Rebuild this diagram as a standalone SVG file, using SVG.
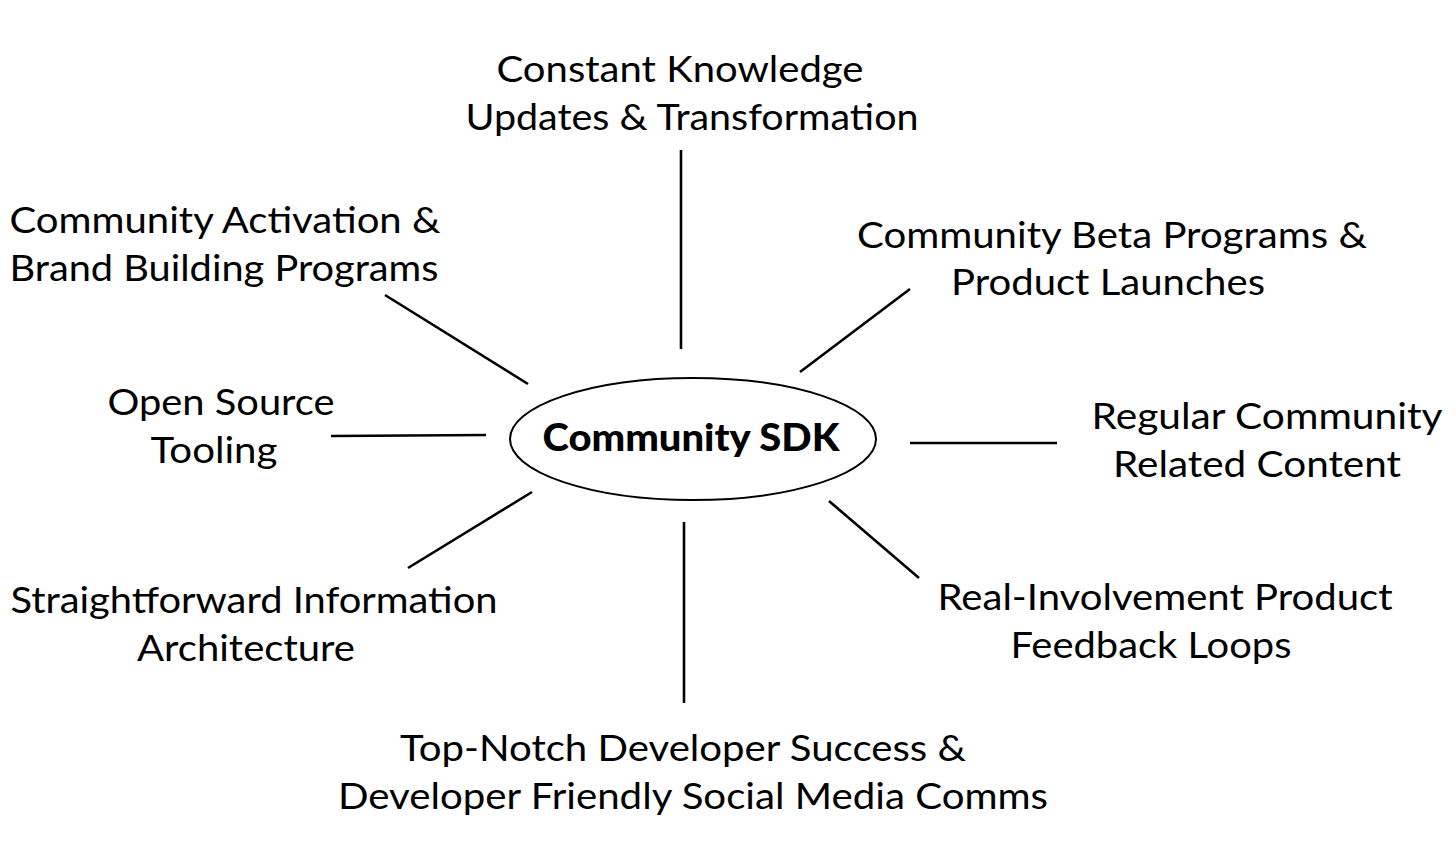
<svg xmlns="http://www.w3.org/2000/svg" width="1456" height="866" viewBox="0 0 1456 866">
<style>
.t{font-family:Lato,"Noto Sans","Liberation Sans",sans-serif;font-size:37px;fill:#000;text-anchor:middle}
.l{stroke:#000;stroke-width:2.6;fill:none}
.c{font-family:Lato,"Noto Sans","Liberation Sans",sans-serif;font-size:38px;font-weight:900;fill:#000;text-anchor:middle}
</style>
<rect width="1456" height="866" fill="#fff"/>
<g id="connectors">
<line class="l" x1="681" y1="150" x2="681" y2="349"/>
<line class="l" x1="385" y1="295" x2="528" y2="384"/>
<line class="l" x1="910" y1="289" x2="800" y2="372"/>
<line class="l" x1="331" y1="436" x2="486" y2="435"/>
<line class="l" x1="910" y1="443" x2="1057" y2="443"/>
<line class="l" x1="532" y1="492" x2="408" y2="568"/>
<line class="l" x1="684" y1="522" x2="684" y2="703"/>
<line class="l" x1="829" y1="501" x2="919" y2="578"/>
</g>
<g id="center">
<ellipse cx="693" cy="439" rx="183" ry="61" fill="#fff" stroke="#000" stroke-width="2"/>
<text class="c" x="691" y="451" textLength="297" lengthAdjust="spacingAndGlyphs">Community SDK</text>
</g>
<g id="n-top">
<text class="t" x="680" y="82" textLength="367" lengthAdjust="spacingAndGlyphs">Constant Knowledge</text>
<text class="t" x="692" y="130" textLength="453" lengthAdjust="spacingAndGlyphs">Updates &amp; Transformation</text>
</g>
<g id="n-topleft">
<text class="t" x="225" y="233" textLength="431" lengthAdjust="spacingAndGlyphs">Community Activation &amp;</text>
<text class="t" x="224" y="281" textLength="429" lengthAdjust="spacingAndGlyphs">Brand Building Programs</text>
</g>
<g id="n-topright">
<text class="t" x="1112" y="248" textLength="510" lengthAdjust="spacingAndGlyphs">Community Beta Programs &amp;</text>
<text class="t" x="1108" y="295" textLength="314" lengthAdjust="spacingAndGlyphs">Product Launches</text>
</g>
<g id="n-left">
<text class="t" x="221" y="415" textLength="227" lengthAdjust="spacingAndGlyphs">Open Source</text>
<text class="t" x="214" y="463" textLength="127" lengthAdjust="spacingAndGlyphs">Tooling</text>
</g>
<g id="n-right">
<text class="t" x="1267" y="429" textLength="351" lengthAdjust="spacingAndGlyphs">Regular Community</text>
<text class="t" x="1257" y="477" textLength="288" lengthAdjust="spacingAndGlyphs">Related Content</text>
</g>
<g id="n-bottomleft">
<text class="t" x="254" y="613" textLength="487" lengthAdjust="spacingAndGlyphs">Straightforward Information</text>
<text class="t" x="246" y="661" textLength="218" lengthAdjust="spacingAndGlyphs">Architecture</text>
</g>
<g id="n-bottomright">
<text class="t" x="1165" y="610" textLength="455" lengthAdjust="spacingAndGlyphs">Real-Involvement Product</text>
<text class="t" x="1151" y="658" textLength="281" lengthAdjust="spacingAndGlyphs">Feedback Loops</text>
</g>
<g id="n-bottom">
<text class="t" x="683" y="761" textLength="566" lengthAdjust="spacingAndGlyphs">Top-Notch Developer Success &amp;</text>
<text class="t" x="693" y="809" textLength="710" lengthAdjust="spacingAndGlyphs">Developer Friendly Social Media Comms</text>
</g>
</svg>
